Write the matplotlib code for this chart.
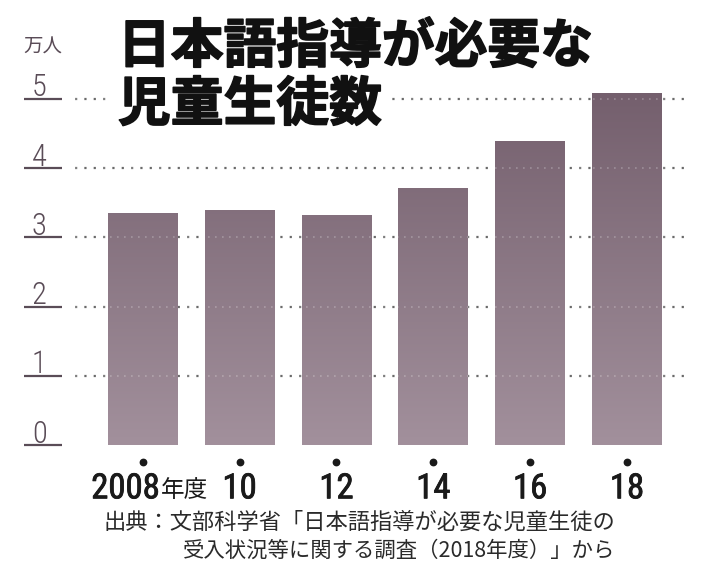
import numpy as np
import matplotlib.pyplot as plt
import matplotlib.patheffects as pe
from matplotlib import font_manager
from matplotlib.colors import LinearSegmentedColormap

plt.rcParams['font.family'] = ['Noto Sans CJK JP', 'DejaVu Sans']

years = ["2008", "10", "12", "14", "16", "18"]
students = [3.3470, 3.4007, 3.3184, 3.7095, 4.3947, 5.0856]   # 万人
yticks = [0, 1, 2, 3, 4, 5]

title_1 = "日本語指導が必要な"
title_2 = "児童生徒数"
unit = "万人"
source_1 = "出典：文部科学省「日本語指導が必要な児童生徒の"
source_2 = "受入状況等に関する調査（2018年度）」から"

available = {f.name for f in font_manager.fontManager.ttflist}


def first_font(cands):
    return next((c for c in cands if c in available), "DejaVu Sans")


num_font = first_font(["Roboto Condensed", "Archivo Narrow", "Oswald",
                       "Liberation Sans Narrow", "Liberation Sans"])

axis_col = "#5a4c57"
ink = "#1a1a1a"

fig = plt.figure(figsize=(7.28, 5.88), dpi=100)
ax = fig.add_axes([75 / 728, 143 / 588, 615 / 728, 360 / 588])

x = np.arange(len(years))
bars = ax.bar(x, students, width=0.72, color="none", zorder=2)
ax.set_xlim(-0.70, 5.65)
ax.set_ylim(0, 5.2)

# vertical gradient, light at the bottom, dark at the top
cmap = LinearSegmentedColormap.from_list("g", ["#a2909c", "#745f6d"])
grad = np.linspace(0, 1, 256).reshape(-1, 1)
for b in bars:
    im = ax.imshow(grad, cmap=cmap, origin="lower", aspect="auto",
                   extent=(b.get_x(), b.get_x() + b.get_width(), 0, 5.1),
                   zorder=2)
    im.set_clip_path(b)

# dotted grid lines
for v in yticks[1:]:
    ax.axhline(v, color="#6a6a6a", lw=1.6, ls=(0, (1, 3.2)), zorder=1)
    ax.axhline(v, color="white", lw=1.2, ls=(0, (1, 3.2)), alpha=0.25, zorder=3)

ax.set_xticks([])
ax.set_yticks([])
for s in ax.spines.values():
    s.set_visible(False)

# y labels with short underline on the left
for v in yticks:
    ax.plot([-1.227, -0.834], [v, v], color=axis_col, lw=1.6, clip_on=False,
            solid_capstyle="butt")
    ax.text(-1.07, v + 0.035, str(v), ha="center", va="baseline", fontsize=22,
            fontweight="light", color=axis_col, family=[num_font, "DejaVu Sans"])
ax.text(-1.03, 5.74, unit, ha="center", va="center", fontsize=14,
        color=axis_col)

# tick dots and x labels
ax.plot(x, [-0.24] * len(x), "o", color=ink, ms=4.6, clip_on=False)
for i, lab in enumerate(years):
    if i == 0:
        ax.text(0.18, -0.77, lab, ha="right", va="baseline", fontsize=25,
                color=ink, family=[num_font, "DejaVu Sans"],
                path_effects=[pe.withStroke(linewidth=0.6, foreground=ink)])
        ax.text(0.19, -0.755, "年度", ha="left", va="baseline", fontsize=17,
                color=ink)
    else:
        ax.text(i, -0.77, lab, ha="center", va="baseline", fontsize=25,
                color=ink, family=[num_font, "DejaVu Sans"],
                path_effects=[pe.withStroke(linewidth=0.6, foreground=ink)])

# title, on white so the grid line does not show through; a stroke makes it heavier
for txt, ypx, pad in [(title_1, 47, 1), (title_2, 105, 6)]:
    fig.text(118 / 728, 1 - ypx / 588, txt, ha="left", va="center",
             fontsize=38, fontweight="bold", color="#111111",
             family="Noto Sans CJK JP",
             path_effects=[pe.withStroke(linewidth=1.2, foreground="#111111")],
             bbox=dict(facecolor="white", edgecolor="none", pad=pad))

# source
fig.text(103 / 728, 1 - 522 / 588, source_1, ha="left", va="center",
         fontsize=16, color="#2a2a2a")
fig.text(183 / 728, 1 - 551 / 588, source_2, ha="left", va="center",
         fontsize=15.4, color="#2a2a2a")

fig.savefig("out.png", dpi=100, facecolor="white")
